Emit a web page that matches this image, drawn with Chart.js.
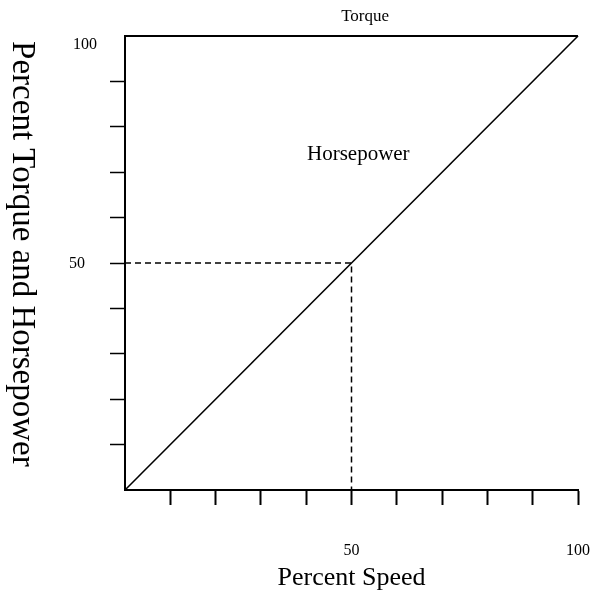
<!DOCTYPE html>
<html>
<head>
<meta charset="utf-8">
<script src="https://cdn.jsdelivr.net/npm/chart.js@4"></script>
<style>
  html, body { margin: 0; padding: 0; background: #fff; }
  #wrap { width: 594px; height: 593px; }
</style>
</head>
<body>
<div id="wrap"><canvas id="c" width="594" height="593"></canvas></div>
<script>
// Percent speed (x) against percent torque / horsepower (y)
const speed = [0, 100];
const torque = [100, 100];
const horsepower = [0, 100];
const guideX = [0, 50, 50];
const guideY = [50, 50, 0];
const xTickLabels = [50, 100];
const yTickLabels = [50, 100];

const pts = (xs, ys) => xs.map((x, i) => ({ x, y: ys[i] }));
const SERIF = '"Liberation Serif", "Times New Roman", serif';

const labelsPlugin = {
  id: 'labels',
  afterDraw(chart) {
    const { ctx, scales: { x, y } } = chart;
    ctx.save();
    ctx.fillStyle = '#000';
    ctx.textAlign = 'center';
    ctx.textBaseline = 'middle';

    ctx.font = '16px ' + SERIF;
    xTickLabels.forEach(v => ctx.fillText(String(v), x.getPixelForValue(v), 551));
    ctx.textAlign = 'right';
    yTickLabels.forEach(v => {
      const off = v === 100 ? 9 : 1;
      const right = v === 100 ? 97 : 85;
      ctx.fillText(String(v), right, y.getPixelForValue(v) + off);
    });

    ctx.textAlign = 'center';
    ctx.font = '17px ' + SERIF;
    ctx.fillText('Torque', x.getPixelForValue(53), y.getPixelForValue(100) - 19);
    ctx.font = '21px ' + SERIF;
    ctx.fillText('Horsepower', x.getPixelForValue(51.5), y.getPixelForValue(74));

    ctx.font = '26px ' + SERIF;
    ctx.fillText('Percent Speed', x.getPixelForValue(50), 578);

    // vertical title, reading top to bottom
    ctx.font = '33px ' + SERIF;
    ctx.translate(22, y.getPixelForValue(52));
    ctx.rotate(Math.PI / 2);
    ctx.fillText('Percent Torque and Horsepower', 0, 0);
    ctx.restore();
  }
};

new Chart(document.getElementById('c'), {
  type: 'scatter',
  data: {
    datasets: [
      { label: 'Torque', data: pts(speed, torque), showLine: true, borderColor: '#000', borderWidth: 2, pointRadius: 0, fill: false, clip: false },
      { label: 'Horsepower', data: pts(speed, horsepower), showLine: true, borderColor: '#000', borderWidth: 1.6, pointRadius: 0, fill: false, clip: false },
      { label: 'Guide', data: pts(guideX, guideY), showLine: true, borderColor: '#000', borderWidth: 1.5, borderDash: [6, 4], pointRadius: 0, fill: false }
    ]
  },
  options: {
    responsive: false,
    animation: false,
    events: [],
    layout: { padding: { left: 0, top: 36, right: 16, bottom: 0 } },
    plugins: { legend: { display: false }, tooltip: { enabled: false } },
    scales: {
      x: {
        type: 'linear', min: 0, max: 100,
        afterFit: s => { s.height = 593 - 490; },
        ticks: { display: false, stepSize: 10 },
        grid: {
          drawOnChartArea: false, drawTicks: true, tickLength: 15, tickWidth: 2,
          tickColor: c => (c.tick && c.tick.value === 0) ? 'rgba(0,0,0,0)' : '#000'
        },
        border: { display: true, color: '#000', width: 2 }
      },
      y: {
        type: 'linear', min: 0, max: 100,
        afterFit: s => { s.width = 125; },
        ticks: { display: false, stepSize: 10 },
        grid: {
          drawOnChartArea: false, drawTicks: true, tickLength: 15, tickWidth: 1.5,
          tickColor: c => (c.tick && (c.tick.value === 0 || c.tick.value === 100)) ? 'rgba(0,0,0,0)' : '#000'
        },
        border: { display: true, color: '#000', width: 2 }
      }
    }
  },
  plugins: [labelsPlugin]
});
</script>
</body>
</html>
